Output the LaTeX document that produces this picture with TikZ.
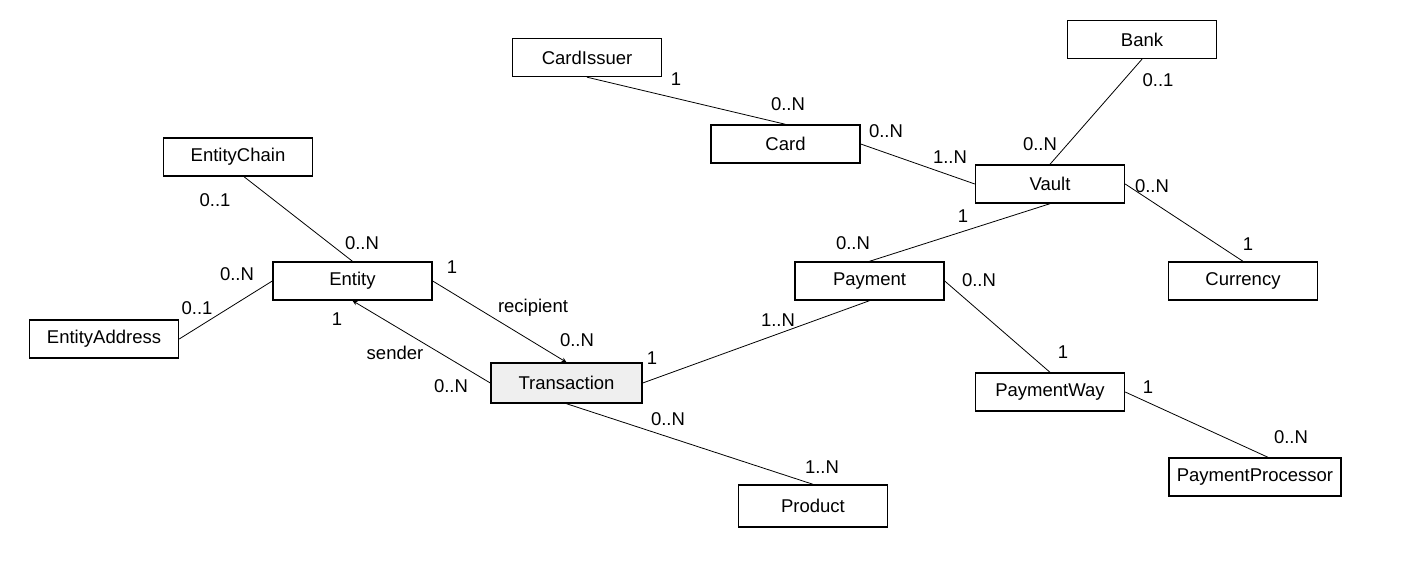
\documentclass[tikz,border=0pt]{standalone}
\usepackage{fontspec}
\setmainfont{Liberation Sans}
\usetikzlibrary{arrows.meta}
\definecolor{txfill}{HTML}{EFEFEF}
\begin{document}
\begin{tikzpicture}[x=1pt,y=-1pt,
  font=\fontsize{18.5}{22}\selectfont,
  ent/.style={draw,line width=1.4pt,minimum width=149pt,minimum height=38pt,inner sep=0pt},
  rel/.style={line width=0.8pt},
  arr/.style={rel,-{Stealth[length=5pt,width=4.5pt]}},
  lbl/.style={inner sep=0pt}]
\useasboundingbox (0,0) rectangle (1422,567);
\node[ent] (cardissuer) at (587,57.5) {CardIssuer};
\node[ent] (bank) at (1142,39.5) {Bank};
\node[ent] (card) at (785.5,144) {Card};
\node[ent] (vault) at (1050,184) {Vault};
\node[ent] (chain) at (238,157) {EntityChain};
\node[ent,minimum width=159pt] (entity) at (352.5,281) {Entity};
\node[ent] (payment) at (869.5,281) {Payment};
\node[ent] (currency) at (1243,281) {Currency};
\node[ent] (address) at (104,339) {EntityAddress};
\node[ent,fill=txfill,minimum width=151pt,minimum height=40pt] (tx) at (566.5,383) {Transaction};
\node[ent] (pway) at (1050,392) {PaymentWay};
\node[ent,minimum width=172pt] (pproc) at (1255,477) {PaymentProcessor};
\node[ent,minimum height=42pt] (product) at (813,506) {Product};

\coordinate (ppin) at ([xshift=13pt]pproc.north);
\coordinate (chainout) at ([xshift=6pt]chain.south);

\draw[rel] (cardissuer.south) -- (card.north);
\draw[rel] (card.east) -- (vault.west);
\draw[rel] (bank.south) -- (vault.north);
\draw[rel] (vault.east) -- (currency.north);
\draw[rel] (vault.south) -- (payment.north);
\draw[rel] (chainout) -- (entity.north);
\draw[rel] (entity.west) -- (address.east);
\draw[arr] (entity.east) -- (tx.north);
\draw[arr] (tx.west) -- (entity.south);
\draw[rel] (tx.east) -- (payment.south);
\draw[rel] (payment.east) -- (pway.north);
\draw[rel] (pway.east) -- (ppin);
\draw[rel] (tx.south) -- (product.north);

\node[lbl] (l1) at (676,79) {1};
\node[lbl] (l2) at (788,104) {0..N};
\node[lbl] (l3) at (886,131) {0..N};
\node[lbl] (l4) at (950,157) {1..N};
\node[lbl] (l5) at (1158,80) {0..1};
\node[lbl] (l6) at (1040,144) {0..N};
\node[lbl] (l7) at (1152,186) {0..N};
\node[lbl] (l8) at (963,216) {1};
\node[lbl] (l9) at (1248,244) {1};
\node[lbl] (l10) at (853,243) {0..N};
\node[lbl] (l11) at (979,280) {0..N};
\node[lbl] (l12) at (1063,352) {1};
\node[lbl] (l13) at (1148,387) {1};
\node[lbl] (l14) at (1291,437) {0..N};
\node[lbl] (l15) at (668,419) {0..N};
\node[lbl] (l16) at (822,467) {1..N};
\node[lbl] (l17) at (652,358) {1};
\node[lbl] (l18) at (778,320) {1..N};
\node[lbl] (l19) at (452,267) {1};
\node[lbl] (l20) at (533,308) {recipient};
\node[lbl] (l21) at (577,340) {0..N};
\node[lbl] (l22) at (337,319) {1};
\node[lbl] (l23) at (395,353) {sender};
\node[lbl] (l24) at (451,386) {0..N};
\node[lbl] (l25) at (215,200) {0..1};
\node[lbl] (l26) at (362,243) {0..N};
\node[lbl] (l27) at (237,274) {0..N};
\node[lbl] (l28) at (197,308) {0..1};
\end{tikzpicture}
\end{document}
